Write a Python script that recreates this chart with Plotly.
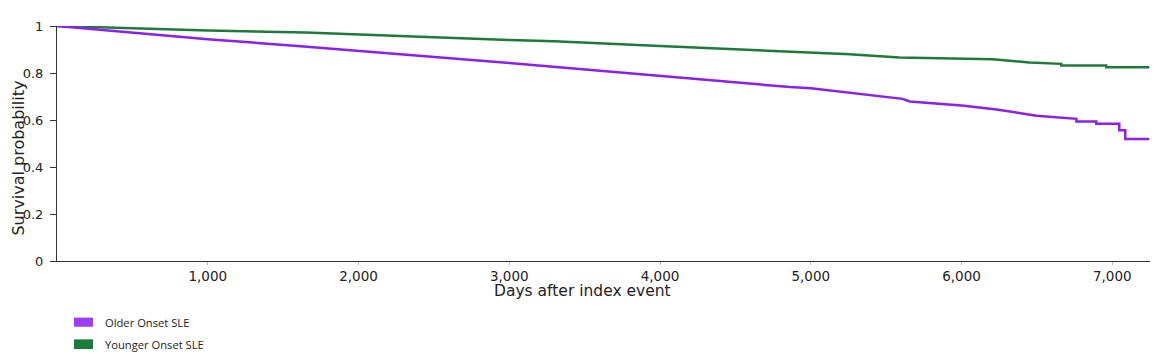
import plotly.graph_objects as go

# Older Onset SLE (Kaplan-Meier estimate)
older_days = [0, 500, 1000, 1616, 2000, 2500, 3000, 3272, 3500, 4000, 4500, 4861, 5000, 5258, 5500,
              5609, 5656, 6000, 6232, 6497, 6762, 6762, 6894, 6894, 7046, 7046, 7086, 7086, 7245]
older_surv = [1.0, 0.972, 0.944, 0.914, 0.895, 0.870, 0.843, 0.828, 0.815, 0.788, 0.760, 0.740, 0.735, 0.716, 0.700,
              0.690, 0.679, 0.662, 0.645, 0.618, 0.605, 0.594, 0.594, 0.584, 0.584, 0.556, 0.556, 0.519, 0.519]

# Younger Onset SLE
younger_days = [0, 1000, 1650, 2000, 2500, 3000, 3300, 4000, 4861, 5000, 5258, 5589, 6000, 6205, 6450,
                6662, 6662, 6960, 6960, 7245]
younger_surv = [1.0, 0.981, 0.972, 0.965, 0.952, 0.940, 0.935, 0.915, 0.891, 0.886, 0.880, 0.866, 0.860, 0.858, 0.845,
                0.839, 0.832, 0.832, 0.825, 0.825]

series_names = ["Older Onset SLE", "Younger Onset SLE"]
line_colors = ["#8a1ff0", "#1d7a3a"]
legend_colors = ["#9d3cf2", "#1b7a3c"]

x_ticks = [1000, 2000, 3000, 4000, 5000, 6000, 7000]
x_tick_text = ["1,000", "2,000", "3,000", "4,000", "5,000", "6,000", "7,000"]
y_ticks = [0, 0.2, 0.4, 0.6, 0.8, 1]
y_tick_text = ["0", "0.2", "0.4", "0.6", "0.8", "1"]

fig = go.Figure()
fig.add_trace(go.Scatter(x=younger_days, y=younger_surv, mode="lines", name=series_names[1],
                         line=dict(color=line_colors[1], width=2.5), showlegend=False))
fig.add_trace(go.Scatter(x=older_days, y=older_surv, mode="lines", name=series_names[0],
                         line=dict(color=line_colors[0], width=2.5), showlegend=False))

# page has an 8px body margin; figure sized so that page fits the window exactly
OFF = 8
W, H = 1172 - 2 * OFF, 360 - 2 * OFF
PL, PR, PT, PB = 57, 1150, 19, 261   # plot area in page pixels
L = PL - OFF
T = PT - OFF
R = (OFF + W) - PR
B = (OFF + H) - PB
pw = PR - PL
ph = PB - PT

def px_x(p):
    return (p - PL) / pw

def px_y(p):
    return (PB - p) / ph

shapes = []
annotations = []
legend_rows = [(319.3, 328.7, 324), (341.7, 351.7, 347)]
for i, (y_top, y_bot, y_mid) in enumerate(legend_rows):
    shapes.append(dict(type="rect", xref="paper", yref="paper",
                       x0=px_x(74), x1=px_x(93), y0=px_y(y_bot), y1=px_y(y_top),
                       fillcolor=legend_colors[i], line=dict(width=0)))
    annotations.append(dict(text=series_names[i], xref="paper", yref="paper",
                            x=px_x(103), y=px_y(y_mid), xanchor="left", yanchor="middle",
                            showarrow=False, font=dict(family="Open Sans", size=11.2, color="#222")))

annotations.append(dict(text="Days after index event", xref="paper", yref="paper",
                        x=px_x(582), y=px_y(292), xanchor="center", yanchor="middle",
                        showarrow=False, font=dict(family="DejaVu Sans", size=15.5, color="#222")))
annotations.append(dict(text="Survival probability", xref="paper", yref="paper",
                        x=px_x(19), y=px_y(155.5), xanchor="center", yanchor="middle", textangle=-90,
                        showarrow=False, font=dict(family="DejaVu Sans", size=16, color="#222")))

fig.update_layout(
    width=W, height=H,
    margin=dict(l=L, r=R, t=T, b=B, pad=0),
    paper_bgcolor="white", plot_bgcolor="white",
    shapes=shapes, annotations=annotations,
    font=dict(family="DejaVu Sans", size=13, color="#222"),
    xaxis=dict(range=[0, 7250], tickvals=x_ticks, ticktext=x_tick_text,
               showline=True, linecolor="#333", linewidth=1, showgrid=False, zeroline=False,
               ticks="outside", ticklen=3, tickcolor="#bbb", tickfont=dict(size=13.5, color="#222")),
    yaxis=dict(range=[0, 1], tickvals=y_ticks, ticktext=y_tick_text,
               showline=True, linecolor="#333", linewidth=1, showgrid=False, zeroline=False,
               ticks="outside", ticklen=6, tickcolor="#333", ticklabelstandoff=4,
               tickfont=dict(size=13, color="#222")),
)

fig.write_html("out.html")
